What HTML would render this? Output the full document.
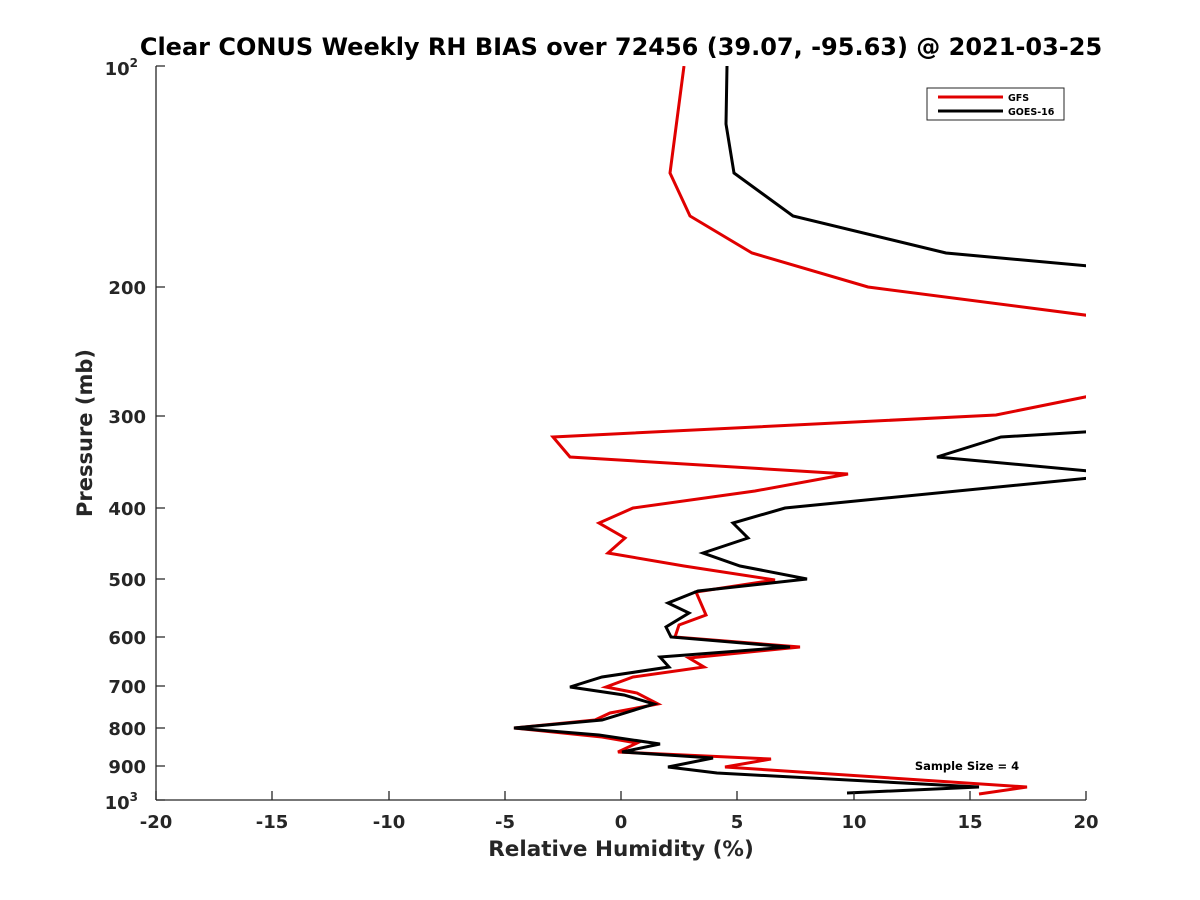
<!DOCTYPE html>
<html><head><style>body{margin:0;background:#fff}svg{display:block}text{font-family:"DejaVu Sans","Liberation Sans",sans-serif;font-weight:bold;fill:#262626}</style></head><body>
<svg width="1200" height="900" xmlns="http://www.w3.org/2000/svg">
<rect width="1200" height="900" fill="#fff"/>
<text x="621" y="55" font-size="24" text-anchor="middle" style="fill:#000">Clear CONUS Weekly RH BIAS over 72456 (39.07, -95.63) @ 2021-03-25</text>
<defs><clipPath id="c"><rect x="156" y="66" width="930" height="734"/></clipPath></defs>
<g clip-path="url(#c)" fill="none" stroke-width="3" stroke-linejoin="miter">
<polyline stroke="#e00000" points="684,66 670,173 690,216 752,253 868,287 1100,317"/>
<polyline stroke="#000" points="727,66 726,124 734,173 793,216 946,253 1100,267"/>
<polyline stroke="#e00000" points="1100,394 996,415 553,437 570,457 848,474 755,491 633,508 599,523 625,538 608,553 684,566 775,580 696,592 706,615 679,625 675,637 800,647 689,658 704,667 633,677 606,687 637,693 658,704 610,713 595,720 514,728 602,737 637,743 618,752 771,759 725,767 1027,787 979,794"/>
<polyline stroke="#000" points="1100,431 1001,437 937,457 1100,472"/>
<polyline stroke="#000" points="1100,477 785,508 733,523 748,538 703,553 740,566 807,579 698,591 668,603 689,613 666,627 671,637 790,647 660,657 669,667 602,677 570,687 624,695 654,704 602,720 514,728 599,735 660,744 622,752 713,758 668,767 717,773 979,787 847,793"/>
</g>
<g stroke="#262626" stroke-width="1.3" fill="none">
<line x1="156" y1="66" x2="156" y2="800"/>
<line x1="156" y1="800" x2="1086" y2="800"/>
<path d="M156,800v-9M272,800v-9M389,800v-9M505,800v-9M621,800v-9M737,800v-9M854,800v-9M970,800v-9M1086,800v-9"/>
<path d="M156,66h9M156,287h9M156,416h9M156,508h9M156,579h9M156,637h9M156,686h9M156,728h9M156,766h9M156,800h9"/>
</g>
<g font-size="18" text-anchor="middle">
<text x="156" y="828">-20</text><text x="272" y="828">-15</text><text x="389" y="828">-10</text><text x="505" y="828">-5</text><text x="621" y="828">0</text><text x="737" y="828">5</text><text x="854" y="828">10</text><text x="970" y="828">15</text><text x="1086" y="828">20</text>
</g>
<g font-size="18" text-anchor="end">
<text x="138" y="75">10<tspan font-size="12" dy="-8">2</tspan></text>
<text x="146" y="294">200</text><text x="146" y="423">300</text><text x="146" y="515">400</text><text x="146" y="586">500</text><text x="146" y="644">600</text><text x="146" y="693">700</text><text x="146" y="735">800</text><text x="146" y="773">900</text>
<text x="138" y="809">10<tspan font-size="12" dy="-8">3</tspan></text>
</g>
<text x="621" y="856" font-size="21.5" text-anchor="middle">Relative Humidity (%)</text>
<text transform="translate(92,433) rotate(-90)" font-size="21" text-anchor="middle">Pressure (mb)</text>
<text x="967" y="770" font-size="11.5" text-anchor="middle" style="fill:#000">Sample Size = 4</text>
<rect x="927" y="88" width="137" height="32" fill="#fff" stroke="#262626" stroke-width="1"/>
<line x1="938" y1="97" x2="1003" y2="97" stroke="#e00000" stroke-width="3"/>
<line x1="938" y1="111" x2="1003" y2="111" stroke="#000" stroke-width="3"/>
<text x="1008" y="101" font-size="9.5" style="fill:#000">GFS</text>
<text x="1008" y="115" font-size="9.5" style="fill:#000">GOES-16</text>
</svg>
</body></html>
